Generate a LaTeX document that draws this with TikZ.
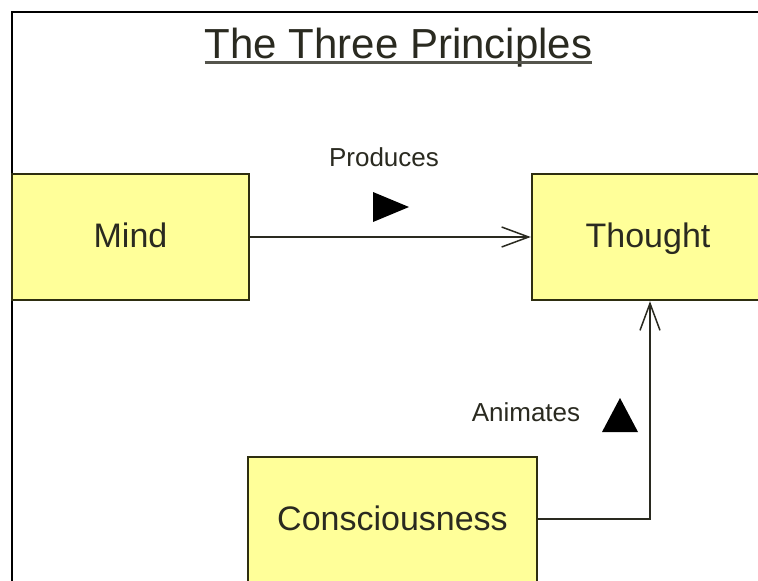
\documentclass[tikz,border=0pt]{standalone}
\usepackage{fontspec}
\setmainfont{Liberation Sans}
\usetikzlibrary{arrows.meta}
\definecolor{boxfill}{HTML}{FFFF99}
\definecolor{boxline}{HTML}{2E2E10}
\definecolor{txt}{HTML}{2A2A20}
\tikzset{
  principle/.style={draw=boxline, line width=2.4pt, fill=boxfill, inner sep=0pt,
    text=txt, font=\fontsize{34}{40}\selectfont, text height=26pt, text depth=5pt},
  conn/.style={line width=1.7pt, draw=txt, -{Straight Barb[length=27pt,width=20pt,line width=1.5pt]}},
  lbl/.style={text=txt, font=\fontsize{26}{30}\selectfont, inner sep=0pt},
  marker/.style={fill=black}
}
\begin{document}
\begin{tikzpicture}[x=1pt,y=-1pt]
\useasboundingbox (0,0) rectangle (758,581);
\clip (0,0) rectangle (758,581);
\fill[white] (0,0) rectangle (758,581);
% frame
\draw[line width=2.6pt, black] (12,583) -- (12,12) -- (760,12);
% title
\node[anchor=base, inner sep=0pt, text=txt, font=\fontsize{42}{48}\selectfont] (title) at (398.5,58) {The Three Principles};
\draw[line width=2.4pt, draw=txt!80] ([yshift=-4.5pt]title.base west) -- ([yshift=-4.5pt]title.base east);
% boxes
\node[principle, minimum width=237pt, minimum height=126pt] (mind) at (130.5,237) {Mind};
\node[principle, minimum width=232pt, minimum height=126pt] (thought) at (648,237) {Thought};
\node[principle, minimum width=289pt, minimum height=126pt] (cons) at (392.5,520) {Consciousness};
% connectors
\draw[conn] (mind.east) -- (thought.west);
\coordinate (bend) at (650,519);
\draw[conn] (cons.east |- bend) -- (bend) -- (bend |- thought.south);
% labels
\node[lbl] (produces) at (384,157) {Produces};
\node[lbl] (animates) at (526,412) {Animates};
\fill[marker] (373,192) -- (409,207) -- (373,222) -- cycle;
\fill[marker] (602,432) -- (620,398) -- (638,432) -- cycle;
\end{tikzpicture}
\end{document}
